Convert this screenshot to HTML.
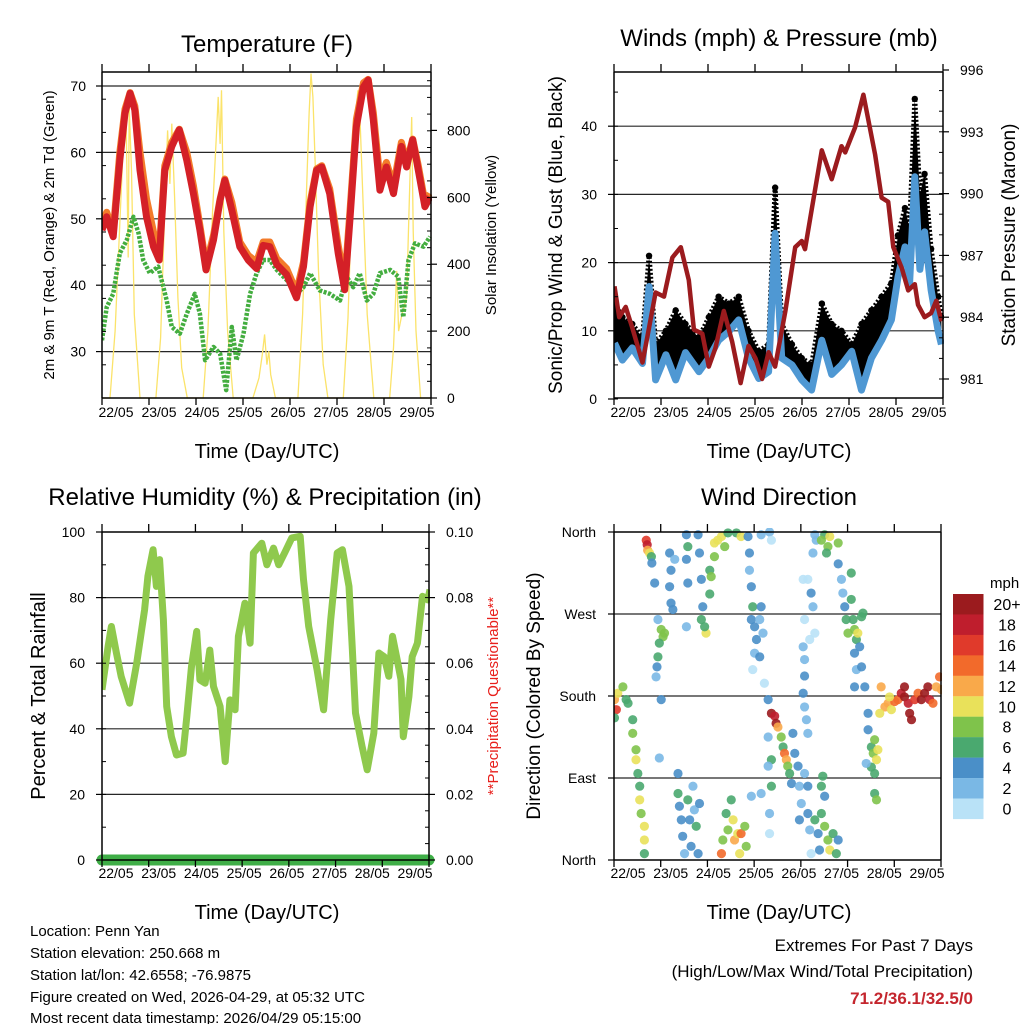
<!DOCTYPE html>
<html><head><meta charset="utf-8">
<style>
html,body{margin:0;padding:0;background:#fff;}
body{width:1024px;height:1024px;overflow:hidden;position:relative;font-family:"Liberation Sans",sans-serif;}
svg{position:absolute;left:0;top:0;}
text{font-family:"Liberation Sans",sans-serif;fill:#000;}
</style></head>
<body>
<svg id="chart" width="1024" height="1024" viewBox="0 0 1024 1024">
<defs>
<clipPath id="c1"><rect x="102" y="72" width="330" height="327"/></clipPath>
<clipPath id="c2"><rect x="614" y="72" width="330" height="327"/></clipPath>
<clipPath id="c3"><rect x="102" y="532" width="328" height="335"/></clipPath>
<clipPath id="c4"><rect x="614" y="528" width="328" height="336"/></clipPath>
</defs>
<text x="267" y="52" font-size="24" text-anchor="middle">Temperature (F)</text>
<text x="779" y="46" font-size="24" text-anchor="middle">Winds (mph) &amp; Pressure (mb)</text>
<text x="265" y="505" font-size="24" text-anchor="middle">Relative Humidity (%) &amp; Precipitation (in)</text>
<text x="779" y="505" font-size="24" text-anchor="middle">Wind Direction</text>
<text x="267" y="458" font-size="20" text-anchor="middle">Time (Day/UTC)</text>
<text x="779" y="458" font-size="20" text-anchor="middle">Time (Day/UTC)</text>
<text x="267" y="919" font-size="20" text-anchor="middle">Time (Day/UTC)</text>
<text x="779" y="919" font-size="20" text-anchor="middle">Time (Day/UTC)</text>
<text transform="translate(54,235) rotate(-90)" font-size="15" text-anchor="middle">2m &amp; 9m T (Red, Orange) &amp; 2m Td (Green)</text>
<text transform="translate(496,235) rotate(-90)" font-size="15" text-anchor="middle">Solar Insolation (Yellow)</text>
<text transform="translate(562,235) rotate(-90)" font-size="19" text-anchor="middle">Sonic/Prop Wind &amp; Gust (Blue, Black)</text>
<text transform="translate(1015,235) rotate(-90)" font-size="19" text-anchor="middle">Station Pressure (Maroon)</text>
<text transform="translate(45,696) rotate(-90)" font-size="20" text-anchor="middle">Percent &amp; Total Rainfall</text>
<text transform="translate(498,696) rotate(-90)" font-size="15" text-anchor="middle" style="fill:#e8201c">**Precipitation Questionable**</text>
<text transform="translate(540,696) rotate(-90)" font-size="19" text-anchor="middle">Direction (Colored By Speed)</text>
<text x="30" y="936" font-size="15">Location: Penn Yan</text>
<text x="30" y="958" font-size="15">Station elevation: 250.668 m</text>
<text x="30" y="980" font-size="15">Station lat/lon: 42.6558; -76.9875</text>
<text x="30" y="1002" font-size="15">Figure created on Wed, 2026-04-29, at 05:32 UTC</text>
<text x="30" y="1023" font-size="15">Most recent data timestamp: 2026/04/29 05:15:00</text>
<text x="973" y="951" font-size="17" text-anchor="end">Extremes For Past 7 Days</text>
<text x="973" y="977" font-size="17" text-anchor="end">(High/Low/Max Wind/Total Precipitation)</text>
<text x="973" y="1004" font-size="17" font-weight="bold" text-anchor="end" style="fill:#c4262e">71.2/36.1/32.5/0</text>
</svg>
<script>
// ---------- Temperature data ----------
const tempTimes=[0,.10,.24,.38,.49,.60,.70,.81,.95,1.10,1.22,1.34,1.49,1.65,1.81,1.95,2.09,2.22,2.38,2.52,2.62,2.77,2.94,3.12,3.30,3.44,3.58,3.73,3.94,4.15,4.30,4.44,4.58,4.69,4.86,5.04,5.18,5.29,5.43,5.58,5.68,5.79,5.93,6.07,6.22,6.39,6.50,6.63,6.75,6.89,7.0];
const temp2m=[48.3,50.3,47.3,58.8,65.9,68.9,66.4,57.3,50.3,45.8,43.8,57.3,60.9,63.4,58.8,53.8,48.3,42.3,46.8,52.8,55.8,51.3,45.8,43.8,42.5,46,45.8,43.1,41.6,38.1,42.8,51.8,57.3,57.8,53.8,44.8,39.3,49.8,63.9,69.9,70.9,64.9,54.3,57.8,53.8,60.9,57.8,61.9,57.3,51.8,53.3];
const temp9m=[49.3,51,48,60,66.5,69,67,60,53,48,45,58,61.5,63.5,60,55,49,43,47.5,53,56,52.5,46.5,44.5,43.5,46.5,46.5,44,42.5,39,43.5,52.5,57.5,58,54.5,46,40.5,51,65,70.5,71,66,56,58.5,55,61.5,58.5,62,58,52.5,53.8];
const dewTimes=[0,.10,.24,.38,.53,.67,.78,.88,1.02,1.20,1.38,1.49,1.66,1.81,1.98,2.09,2.20,2.38,2.52,2.65,2.77,2.87,3.02,3.16,3.30,3.44,3.58,3.73,3.94,4.15,4.30,4.44,4.65,4.86,5.08,5.22,5.36,5.50,5.65,5.79,5.93,6.15,6.32,6.43,6.54,6.68,6.86,7.0];
const dewVals=[31.7,36.7,38.7,44.8,46.8,50.3,47.8,43.8,41.8,42.8,37.7,33.7,32.7,35.7,38.7,35.7,28.7,30.7,29.7,24.2,33.7,28.7,32.7,38.7,41.8,43.8,43.8,42.3,40.8,38.7,39.7,41.8,39.2,38.7,37.7,41.3,39.7,41.8,37.7,38.7,41.8,42.3,41.3,35.2,43.8,46.3,45.8,47.3];
const solarTimes=[0,.17,.28,.38,.46,.51,.56,.58,.63,.69,.81,1.15,1.25,1.33,1.40,1.45,1.49,1.55,1.62,1.70,1.82,2.16,2.26,2.36,2.44,2.48,2.52,2.55,2.60,2.68,2.80,3.22,3.35,3.42,3.47,3.52,3.56,3.60,3.70,4.18,4.28,4.36,4.42,4.46,4.50,4.55,4.62,4.72,4.82,5.15,5.25,5.33,5.40,5.46,5.50,5.58,5.66,5.80,6.14,6.22,6.29,6.33,6.40,6.50,6.56,6.61,6.64,6.70,6.80,7.0];
const solarVals=[0,0,200,520,780,880,420,870,680,250,0,0,180,520,800,640,820,600,300,90,0,0,200,560,780,900,760,920,500,200,0,0,60,130,190,100,140,70,0,0,250,600,850,970,900,700,380,100,0,0,240,580,820,920,860,550,250,0,0,150,380,200,250,300,600,840,500,200,0,0];
const tempTicks=[30,40,50,60,70];
const solarTicks=[0,200,400,600,800];
const dayLabels=["22/05","23/05","24/05","25/05","26/05","27/05","28/05","29/05"];
// ---------- Wind / pressure data ----------
const windTimes=[0,0.17,0.38,0.60,0.74,0.88,1.10,1.31,1.52,1.81,2.02,2.23,2.45,2.66,2.87,3.09,3.30,3.44,3.58,3.80,4.01,4.22,4.44,4.65,4.86,5.08,5.29,5.50,5.72,5.93,6.07,6.22,6.32,6.43,6.54,6.64,6.78,6.93,7.0];
const windSpeed=[8.2,5.7,7.5,5.2,16.5,2.8,6.5,2.8,6.8,4,6,8.6,9.9,11.6,6,3,4,24.3,6,5,2.8,1.3,8.6,3.6,5,7,1.3,6,8.6,11.6,17.9,22.3,17,32.6,19,24.5,16,10,8];
const windGust=[14,12,11,9,21,8,10,13,11,9,12,15,14,15,10,7,8,31,11,8,6,5,14,11,10,8,11,13,15,17,24,28,25,44,30,33,22,15,12];
const presTimes=[0,.10,.24,.38,.60,.74,.88,1.06,1.24,1.42,1.59,1.70,1.88,2.02,2.16,2.34,2.52,2.70,2.87,3.02,3.16,3.30,3.44,3.66,3.87,4.01,4.08,4.22,4.44,4.65,4.86,4.94,5.15,5.33,5.58,5.72,5.86,5.97,6.15,6.29,6.43,6.50,6.64,6.78,6.89,7.0];
const presVals=[985.5,984.0,984.5,983.5,981.8,983.5,985.2,985.0,986.9,987.4,985.8,983.4,983.2,981.6,982.5,984.3,982.8,980.8,982.6,982.0,981.0,982.3,981.6,984.3,987.4,987.7,987.3,989.2,992.1,990.7,992.3,992.0,993.2,994.8,991.9,989.8,989.6,987.4,986.4,985.3,985.6,984.6,984.0,984.2,984.8,983.8];
const windTicks=[0,10,20,30,40];
const presTicks=[981,984,987,990,993,996];
// ---------- RH / precip data ----------
const rhTimes=[0,.13,.20,.31,.41,.59,.74,.91,.98,1.09,1.16,1.23,1.31,1.38,1.48,1.59,1.73,1.81,1.91,2.02,2.09,2.20,2.30,2.38,2.52,2.63,2.73,2.84,2.91,3.05,3.16,3.23,3.41,3.52,3.66,3.77,3.91,4.05,4.23,4.30,4.41,4.59,4.73,4.88,5.02,5.13,5.27,5.34,5.41,5.55,5.66,5.80,5.91,6.02,6.12,6.20,6.30,6.38,6.43,6.55,6.62,6.73,6.84,6.95,7.0];
const rhVals=[51.9,65.1,71.2,63,55.9,47.8,60,76.3,86.5,94.6,83.4,91.6,73.2,46.8,37.6,32,32.6,43.7,59,69.7,54.9,53.9,64,52.9,46.8,30,48.8,45.8,68.2,78.3,66.1,93.6,96.6,90,95.1,90,94,98.2,98.7,85.5,71.2,58,45.8,73.2,93.6,94.6,83.4,65.1,44.8,34.6,27.5,38.7,63.1,62,56,68.2,61,55,37.6,49.8,62,66.1,80.4,79.3,82.4];
const precipTimes=[0,7];
const precipVals=[0,0];
const rhTicks=[0,20,40,60,80,100];
const precipTicks=["0.00","0.02","0.04","0.06","0.08","0.10"];
// ---------- Wind direction data ----------
const dirTimes=[.68,.70,.71,.75,.79,.80,
.86,.93,1.0,1.04,1.07,.96,.93,.91,.89,1.0,
1.18,1.21,1.18,1.21,1.25,1.29,
0,.07,.18,.25,.29,.04,0,
.39,.39,.46,.46,.5,.54,.54,.57,.64,.64,.64,
1.36,1.39,1.43,1.46,1.5,1.57,1.61,1.64,1.68,1.71,1.75,1.79,1.82,1.36,0.96,
1.54,1.57,1.54,1.57,1.54,1.79,1.82,1.86,1.89,1.86,1.96,1.93,
2.04,2.04,2.07,2.14,2.21,2.29,2.36,2.14,2.43,2.61,2.71,
2.29,2.32,2.43,2.5,2.54,2.57,2.64,2.68,2.71,2.79,2.82,2.39,
2.86,2.89,2.89,2.93,2.96,2.93,3.0,3.04,3.0,3.11,3.14,3.18,3.11,3.14,3.32,3.36,2.96,3.21,
3.29,3.36,3.43,3.46,3.5,3.57,3.61,3.64,3.68,3.71,3.75,3.79,3.82,3.86,3.93,3.29,3.36,3.36,3.32,3.29,
2.93,3.14,3.32,3.96,4.0,3.96,4.14,4.18,4.21,4.14,4.07,4.07,4.04,4.07,4.11,4.14,4.07,4.04,4.07,4.04,4.14,4.21,4.25,4.29,4.18,4.25,4.32,4.29,
4.29,4.36,4.43,4.5,4.57,4.61,4.68,4.75,4.79,4.43,4.46,4.5,4.39,
4.5,4.57,4.61,4.54,4.79,4.43,
4.79,4.86,4.89,4.93,4.96,5.0,5.07,5.07,5.11,5.14,5.18,5.21,5.25,5.29,5.32,5.14,5.18,5.14,5.29,5.36,
5.43,5.43,5.5,5.54,5.57,5.61,5.64,5.5,5.57,5.57,5.61,5.39,
5.71,5.79,5.86,5.93,6.0,6.07,6.14,6.21,6.29,6.32,6.36,6.43,6.5,6.57,6.64,6.71,6.75,6.82,6.89,6.96,7.0,5.68,5.89,6.21];
const dirDegrees=[351,346,340,337,333,326,
304,264,253,245,249,238,223,212,201,176,
337,318,300,282,275,330,
176,183,190,176,172,165,156,
154,139,121,110,95,81,66,51,37,22,7,
73,59,44,26,7,66,44,15,81,55,37,7,62,95,112,
357,344,330,304,256,357,337,308,278,264,249,256,
318,292,311,348,351,355,344,333,359,359,355,
7,22,33,66,44,22,29,7,29,37,15,51,
355,337,318,300,278,264,256,242,227,264,278,249,223,357,360,351,209,194,
176,161,158,150,146,135,124,117,110,103,95,84,139,117,103,135,110,81,51,103,
70,73,29,81,62,44,51,33,7,81,95,202,183,168,154,139,220,234,264,308,308,293,278,249,242,337,351,357,
44,29,51,37,22,11,29,7,22,81,92,70,11,
357,344,355,337,348,351,
325,308,293,278,264,249,315,286,264,253,242,249,234,267,271,227,209,190,212,190,
161,143,124,117,132,110,121,102,95,73,66,106,
190,168,172,165,174,176,183,179,172,161,154,176,183,176,183,190,176,172,190,201,187,161,179,190];
const dirSpeeds=[16,18,12,10,6,4,
4,2,8,8,9,6,6,4,2,4,
4,4,4,4,4,2,
12,10,8,6,6,16,6,
6,8,8,10,6,6,10,8,10,10,6,
6,5,4,4,3,6,4,4,2,3,6,4,5,4,2,
5,6,4,4,2,4,4,5,4,6,10,6,
6,6,8,10,10,10,8,8,6,6,10,
14,8,8,6,10,12,10,10,14,8,8,6,
4,4,2,4,6,4,4,4,2,2,4,2,4,2,2,1,1,1,
4,20,18,20,12,8,6,14,12,8,6,4,4,4,4,2,6,6,2,2,
2,2,1,2,2,4,4,2,1,4,2,4,4,2,2,2,2,2,1,1,1,4,2,1,1,2,2,2,
6,4,6,8,8,10,6,6,4,6,6,4,4,
6,8,10,6,8,8,
4,2,2,4,6,8,6,6,6,8,6,10,4,6,6,4,2,4,4,4,
4,4,6,8,8,10,10,6,6,6,8,2,
12,12,12,10,14,14,18,20,18,20,20,16,14,20,20,20,18,14,12,14,12,10,10,20];
const dirTicks=[0,90,180,270,360];
const dirTickLabels=["North","East","South","West","North"];
const speedBins=["0","2","4","6","8","10","12","14","16","18","20+"];
const speedColors=["#b9e2f7","#7ab8e5","#4a8fc8","#4aa96f","#7fc34b","#e9e15a","#f9a94a","#f26a2b","#e03a2b","#bf1e2d","#9b1b1e"];

const NS="http://www.w3.org/2000/svg";
const svg=document.getElementById('chart');
function mk(tag,attrs,parent){const e=document.createElementNS(NS,tag);for(const k in attrs)e.setAttribute(k,attrs[k]);(parent||svg).appendChild(e);return e;}
function pts(xs,ys,fx,fy){return xs.map((t,i)=>fx(t).toFixed(1)+','+fy(ys[i]).toFixed(1)).join(' ');}

const x1=d=>102+d*46.86, x2=d=>614.5+d*46.7;
const yT=v=>86+(70-v)*6.64, ySol=w=>398-w*0.3345;
const yW=v=>399-v*6.82, yP=p=>379-(p-981)*20.6;
const yRH=v=>860-v*3.28, yPr=v=>860-v*3280;
const yDir=d=>860-d*0.9111;

function frame(name,x0,y0,x1_,y1_){
  const g=mk('g',{});
  
  
  mk('line',{x1:x0,y1:y0,x2:x1_,y2:y0,stroke:'#000','stroke-width':1.5},g);
  mk('line',{x1:x0,y1:y0,x2:x0,y2:y1_,stroke:'#000','stroke-width':1.5},g);
  mk('line',{x1:x1_,y1:y0,x2:x1_,y2:y1_,stroke:'#000','stroke-width':1.5},g);
  mk('line',{x1:x0,y1:y1_,x2:x1_,y2:y1_,stroke:'#000','stroke-width':1.5},g);
  return g;
}
function xAxis(name,left,right,top,bottom,labelY){
  const g=mk('g',{});
  
  
  const step=(right-left)/7;
  for(let i=0;i<=7;i++){
    const x=left+i*step;
    mk('line',{x1:x,y1:top-8,x2:x,y2:top,stroke:'#000','stroke-width':1.3},g);
    mk('line',{x1:x,y1:bottom,x2:x,y2:bottom+7,stroke:'#000','stroke-width':1.3},g);
  }
  dayLabels.forEach((lab,i)=>{
    const t=mk('text',{x:left+14+i*((right-left-28)/7),y:labelY,'font-size':14,'text-anchor':'middle'},g);
    
    t.textContent=lab;
  });
}
function hgrid(name,x0,x1_,ys){
  const g=mk('g',{});
  
  
  ys.forEach(y=>mk('line',{x1:x0,y1:y,x2:x1_,y2:y,stroke:'#000','stroke-width':1.2,'stroke-opacity':0.85},g));
}
function minorTicks(name,x,y0,y1_,step,dir){
  const g=mk('g',{});
  
  
  for(let y=y1_;y>=y0;y-=step) mk('line',{x1:x,y1:y,x2:x+dir*4,y2:y,stroke:'#000','stroke-width':1},g);
}
function yLabels(name,vals,labels,fy,x,anchor,tickX,dir){
  const g=mk('g',{});
  
  
  vals.forEach((v,i)=>{
    const y=fy(v);
    mk('line',{x1:tickX,y1:y,x2:tickX+dir*6,y2:y,stroke:'#000','stroke-width':1.2},g);
    const t=mk('text',{x:x,y:y+5,'font-size':14,'text-anchor':anchor},g);
    
    t.textContent=labels[i];
  });
}

// ===== Panel 1 =====
hgrid('temp-gridlines',102,431,tempTicks.map(yT));
const p1=mk('g',{'clip-path':'url(#c1)'});


let e;
e=mk('polyline',{points:pts(solarTimes,solarVals,x1,ySol),fill:'none',stroke:'#fbe36a','stroke-width':1.3},p1);


e=mk('polyline',{points:pts(dewTimes,dewVals,x1,yT),fill:'none',stroke:'#43ad3f','stroke-width':4.5,'stroke-linejoin':'round','stroke-dasharray':'3 1.5'},p1);


e=mk('polyline',{points:pts(tempTimes,temp9m,x1,yT),fill:'none',stroke:'#f37b2a','stroke-width':7,'stroke-linejoin':'round'},p1);


e=mk('polyline',{points:pts(tempTimes,temp2m,x1,yT),fill:'none',stroke:'#d42027','stroke-width':7,'stroke-linejoin':'round'},p1);


frame('temperature-frame',102,72,431,398);
minorTicks('temp-minor-ticks',102,72,398,33.2,1);
minorTicks('solar-minor-ticks',431,72,398,16.7,-1);
xAxis('temp-x-axis',102,431,72,398,417);
yLabels('temp-y-axis',tempTicks,tempTicks.map(String),yT,86,'end',102,-1);
yLabels('solar-y-axis',solarTicks,solarTicks.map(String),ySol,447,'start',431,1);

// ===== Panel 2 =====
hgrid('wind-gridlines',614,943,[10,20,30,40].map(yW));
const p2=mk('g',{'clip-path':'url(#c2)'});


const bandPts=windTimes.map((t,i)=>x2(t).toFixed(1)+','+yW(windGust[i]).toFixed(1)).concat(windTimes.slice().reverse().map((t,j)=>{const i=windTimes.length-1-j;return x2(t).toFixed(1)+','+yW(windSpeed[i]).toFixed(1);})).join(' ');
e=mk('polygon',{points:bandPts,fill:'#000'},p2);


e=mk('polyline',{points:pts(windTimes,windGust,x2,yW),fill:'none',stroke:'#000','stroke-width':5,'stroke-linejoin':'round','stroke-dasharray':'2 2'},p2);


windTimes.forEach((t,i)=>{
  const c=mk('circle',{cx:x2(t),cy:yW(windGust[i]),r:3.2,fill:'#000'},p2);
  
  
});
e=mk('polyline',{points:pts(windTimes,windSpeed,x2,yW),fill:'none',stroke:'#4f98d3','stroke-width':7,'stroke-linejoin':'round'},p2);


e=mk('polyline',{points:pts(presTimes,presVals,x2,yP),fill:'none',stroke:'#9b1b1e','stroke-width':4.5,'stroke-linejoin':'round'},p2);


frame('winds-frame',614,72,943,398);
minorTicks('wind-minor-ticks',614,72,399,34.1,1);
minorTicks('pressure-minor-ticks',943,72,379,20.6,-1);
xAxis('wind-x-axis',614,943,72,398,417);
yLabels('wind-y-axis',windTicks,windTicks.map(String),yW,597,'end',614,-1);
yLabels('pressure-y-axis',presTicks,presTicks.map(String),yP,960,'start',943,1);

// ===== Panel 3 =====
hgrid('rh-gridlines',102,429,[20,40,60,80].map(yRH));
const p3=mk('g',{'clip-path':'url(#c3)'});


e=mk('polyline',{points:pts(rhTimes,rhVals,x1,yRH),fill:'none',stroke:'#8fc94d','stroke-width':7,'stroke-linejoin':'round'},p3);


e=mk('polyline',{points:pts(precipTimes,precipVals,t=>102+t*46.71,yPr),fill:'none',stroke:'#3fae47','stroke-width':11,'stroke-linecap':'round'},svg);


frame('rh-frame',102,532,429,860);
minorTicks('rh-minor-ticks',102,532,860,32.8,1);
minorTicks('precip-minor-ticks',429,532,860,16.4,-1);
xAxis('rh-x-axis',102,429,532,860,878);
yLabels('rh-y-axis',rhTicks,rhTicks.map(String),yRH,85,'end',102,-1);
yLabels('precip-y-axis',rhTicks,precipTicks,yRH,446,'start',429,1);

// ===== Panel 4 =====
hgrid('dir-gridlines',614,941,[90,180,270].map(yDir));
const p4=mk('g',{'clip-path':'url(#c4)'});


dirTimes.forEach((t,i)=>{
  const idx=Math.min(10,Math.floor(dirSpeeds[i]/2));
  const c=mk('circle',{cx:x2(t),cy:yDir(dirDegrees[i]),r:4.6,fill:speedColors[idx],'fill-opacity':0.9},p4);
  
  
});
frame('direction-frame',614,532,941,860);
xAxis('dir-x-axis',614,941,532,860,878);
yLabels('dir-y-axis',dirTicks,dirTickLabels,yDir,596,'end',614,-1);

// colorbar
const cb=mk('g',{});


const t0=mk('text',{x:990,y:588,'font-size':15,'text-anchor':'start'},cb);

t0.textContent='mph';
speedBins.forEach((lab,i)=>{
  const k=10-i;
  const y=594+i*20.45;
  const r=mk('rect',{x:953,y:y,width:30.5,height:20.6,fill:speedColors[k]},cb);
  
  
  const t=mk('text',{x:1007,y:y+16,'font-size':16,'text-anchor':'middle'},cb);
  
  t.textContent=speedBins[k];
});
</script>
</body></html>
